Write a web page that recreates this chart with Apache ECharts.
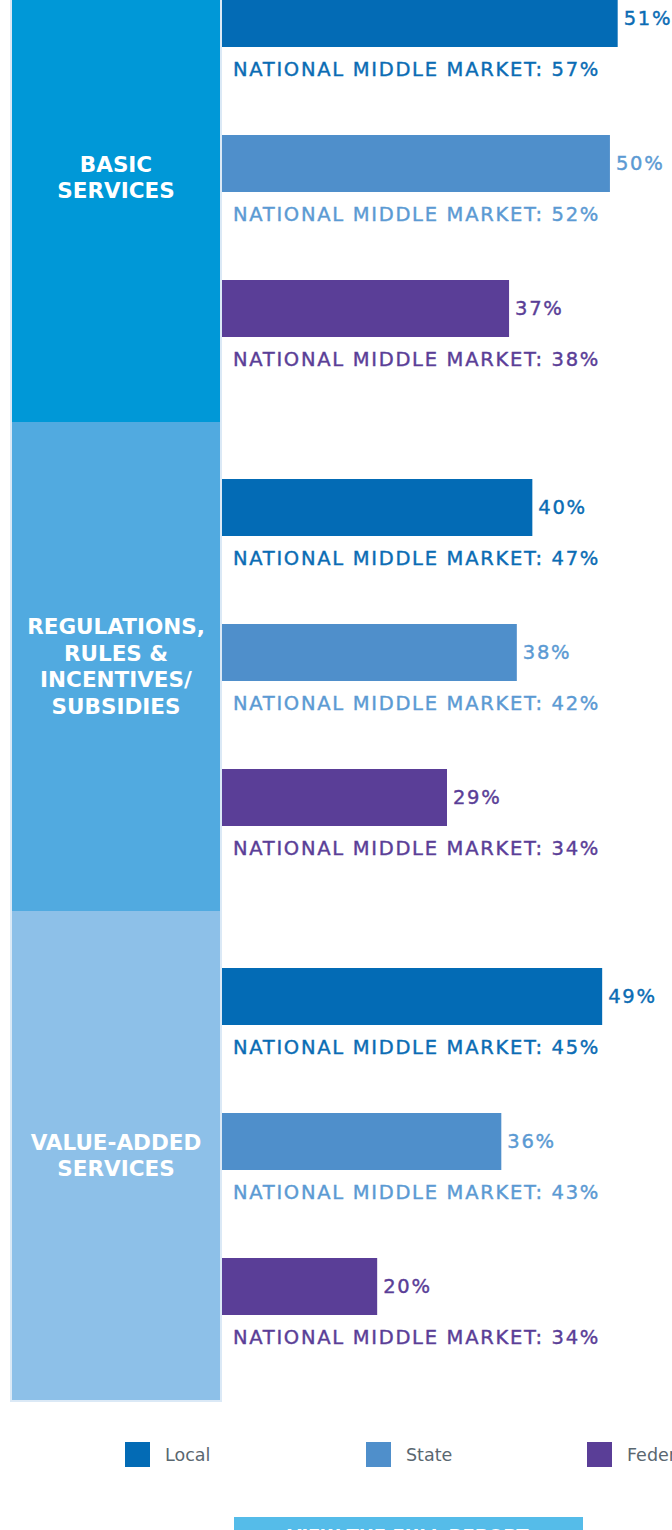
<!DOCTYPE html>
<html>
<head>
<meta charset="utf-8">
<script src="https://cdn.jsdelivr.net/npm/echarts@6/dist/echarts.min.js"></script>
<style>
  html, body { margin: 0; padding: 0; background: #fff; }
  #chart { width: 672px; height: 1530px; }
  /* the original type is tracked out; only bar labels get the extra spacing */
  #chart text { letter-spacing: 1.7px; }
  #chart text[fill="#fff"], #chart text[fill="#5a6770"] { letter-spacing: 0; }
</style>
</head>
<body>
<div id="chart"></div>
<script>
  'use strict';

  var groups = ['BASIC\nSERVICES', 'REGULATIONS,\nRULES &\nINCENTIVES/\nSUBSIDIES', 'VALUE-ADDED\nSERVICES'];
  var levels = ['Local', 'State', 'Federal'];
  // share per group, one list per level
  var localShare = [51, 40, 49];
  var stateShare = [50, 38, 36];
  var federalShare = [37, 29, 20];
  // national middle market benchmark
  var localNational = [57, 47, 45];
  var stateNational = [52, 42, 43];
  var federalNational = [38, 34, 34];

  var shares = [localShare, stateShare, federalShare];
  var nationals = [localNational, stateNational, federalNational];
  var barColors = ['#036bb5', '#4f8fcb', '#5a3e97'];
  var textColors = ['#0a6cb4', '#5b9ad3', '#5a3e97'];
  var blockColors = ['#0098d7', '#51aae0', '#8dc0e8'];
  var font = '"DejaVu Sans", sans-serif';

  var grids = [], xAxes = [], yAxes = [], series = [], graphics = [];

  graphics.push({ type: 'rect', shape: { x: 10, y: -70, width: 212, height: 1472 }, style: { fill: '#dbe9f6' }, z: 0 });

  groups.forEach(function(g, gi) {
    grids.push({ left: 222, right: 0, top: -54 + 489 * gi, height: 435, outerBoundsMode: 'none' });
    xAxes.push({ type: 'value', gridIndex: gi, min: 0, max: 58, show: false });
    yAxes.push({ type: 'category', gridIndex: gi, inverse: true, data: levels, show: false });

    levels.forEach(function(lv, li) {
      series.push({
        name: lv,
        type: 'bar',
        xAxisIndex: gi,
        yAxisIndex: gi,
        barWidth: 57,
        barGap: '-100%',
        itemStyle: { color: barColors[li] },
        label: {
          show: true,
          position: 'right',
          distance: 6,
          color: textColors[li],
          textBorderColor: textColors[li],
          textBorderWidth: 0.4,
          fontFamily: font,
          fontSize: 19.5,
          formatter: '{c}%'
        },
        data: levels.map(function(_, k) { return k === li ? shares[li][gi] : '-'; })
      });
    });

    // benchmark text under each bar
    series.push({
      name: 'national',
      type: 'bar',
      xAxisIndex: gi,
      yAxisIndex: gi,
      barWidth: 57,
      barGap: '-100%',
      silent: true,
      itemStyle: { color: 'rgba(0,0,0,0)' },
      label: {
        show: true,
        position: [11, 79],
        verticalAlign: 'middle',
        fontFamily: font,
        fontSize: 19.5,
        textBorderWidth: 0.4,
        formatter: function(p) {
          return 'NATIONAL MIDDLE MARKET: ' + nationals[p.dataIndex][gi] + '%';
        }
      },
      data: levels.map(function(_, k) {
        return { value: shares[k][gi], label: { color: textColors[k], textBorderColor: textColors[k] } };
      })
    });

    graphics.push({ type: 'rect', shape: { x: 12, y: -67 + 489 * gi, width: 208, height: 489 }, style: { fill: blockColors[gi] }, z: 1 });
    graphics.push({
      type: 'text', x: 116, y: -67 + 489 * gi + 244.5, z: 2,
      style: { text: g, fill: '#fff', font: 'bold 21.5px ' + font, lineHeight: 26.5, align: 'center', verticalAlign: 'middle' }
    });
  });

  graphics.push({ type: 'rect', shape: { x: 234, y: 1517, width: 349, height: 40 }, style: { fill: '#55bce9' } });
  graphics.push({
    type: 'text', x: 408, y: 1526,
    style: { text: 'VIEW THE FULL REPORT', fill: '#fff', font: 'bold 18px ' + font, align: 'center', verticalAlign: 'top' }
  });

  var legendLeft = [125, 366, 587];
  var legends = levels.map(function(lv, li) {
    return {
      data: [lv],
      left: legendLeft[li],
      top: 1442,
      padding: 0,
      itemWidth: 25,
      itemHeight: 25,
      icon: 'rect',
      selectedMode: false,
      textStyle: { color: '#5a6770', fontFamily: font, fontSize: 17.5, padding: [0, 0, 0, 10] }
    };
  });

  var chart = echarts.init(document.getElementById('chart'), null, { renderer: 'svg' });
  chart.setOption({
    animation: false,
    backgroundColor: '#fff',
    grid: grids,
    xAxis: xAxes,
    yAxis: yAxes,
    legend: legends,
    graphic: graphics,
    series: series
  });
</script>
</body>
</html>
